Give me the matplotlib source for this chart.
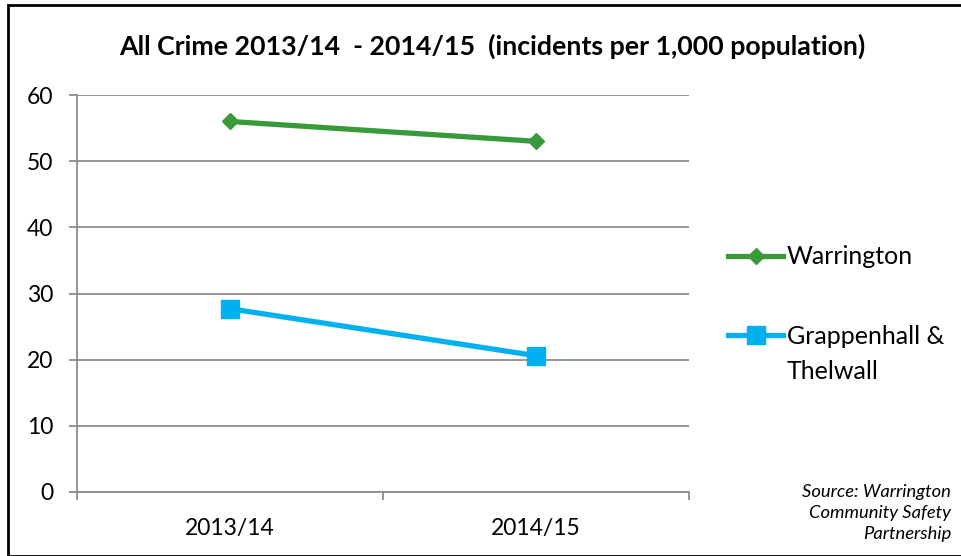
import matplotlib
matplotlib.use("Agg")
import matplotlib.pyplot as plt
from matplotlib.patches import Rectangle

# ------------------ Data ------------------
years = ["2013/14", "2014/15"]
warrington = [56.0, 53.0]
grappenhall = [27.7, 20.6]
series_names = ["Warrington", "Grappenhall &\nThelwall"]

title = "All Crime 2013/14  - 2014/15  (incidents per 1,000 population)"
source = "Source: Warrington\nCommunity Safety\nPartnership"

GREEN = "#3A9A3A"
BLUE = "#00B0F0"
GRID = "#8C8C8C"

plt.rcParams["font.family"] = ["Lato", "DejaVu Sans"]

fig = plt.figure(figsize=(9.61, 5.56), dpi=100)
W, H = 961, 556

# outer chart border (black, only top and left visible in the crop)
fig.patches.append(Rectangle((8 / W, 0), 1.0, 1 - 5 / H, transform=fig.transFigure,
                             fill=False, edgecolor="black", linewidth=2, clip_on=False))

ax = fig.add_axes([77 / W, 1 - 492 / H, (689 - 77) / W, (492 - 95) / H])

x = list(range(len(years)))
ax.plot(x, warrington, color=GREEN, lw=3.8, marker="D", markersize=8,
        markeredgecolor=GREEN, label=series_names[0], zorder=3)
ax.plot(x, grappenhall, color=BLUE, lw=3.8, marker="s", markersize=13,
        markeredgecolor=BLUE, label=series_names[1], zorder=3)

ax.set_xlim(-0.5, len(years) - 0.5)
ax.set_ylim(0, 60)
ax.set_yticks(range(0, 61, 10))
ax.yaxis.grid(True, color=GRID, lw=1.3)
ax.set_axisbelow(True)

for s in ["top", "right"]:
    ax.spines[s].set_visible(False)
for s in ["left", "bottom"]:
    ax.spines[s].set_color(GRID)
    ax.spines[s].set_linewidth(1.3)

ax.tick_params(axis="y", length=6, width=1.3, color=GRID, labelsize=16.5, pad=11)
ax.set_xticks(x)
ax.set_xticklabels(years)
ax.tick_params(axis="x", which="major", length=0, labelsize=16.5, pad=19)
ax.set_xticks([i - 0.5 for i in range(len(years) + 1)], minor=True)
ax.tick_params(axis="x", which="minor", length=6, width=1.3, color=GRID)

fig.text(492 / W, 1 - 46 / H, title, ha="center", va="center",
         fontsize=19.3, fontweight="bold")

leg = ax.legend(loc="upper left", bbox_to_anchor=(728 / W, 1 - 245 / H),
                bbox_transform=fig.transFigure, frameon=False, fontsize=18,
                handlelength=2.2, handletextpad=0.16, labelspacing=2.16,
                handleheight=1.2, borderaxespad=0, borderpad=0)
for t in leg.get_texts():
    t.set_linespacing(1.65)
# keep the marker level with the first line of a two-line label
for col in leg._legend_handle_box.get_children():
    for item in col.get_children():
        item.align = "top"

fig.text(951 / W, 1 - 513 / H, source, ha="right", va="center",
         fontsize=13.2, style="italic", linespacing=1.4)

fig.savefig("out.png", dpi=100)
